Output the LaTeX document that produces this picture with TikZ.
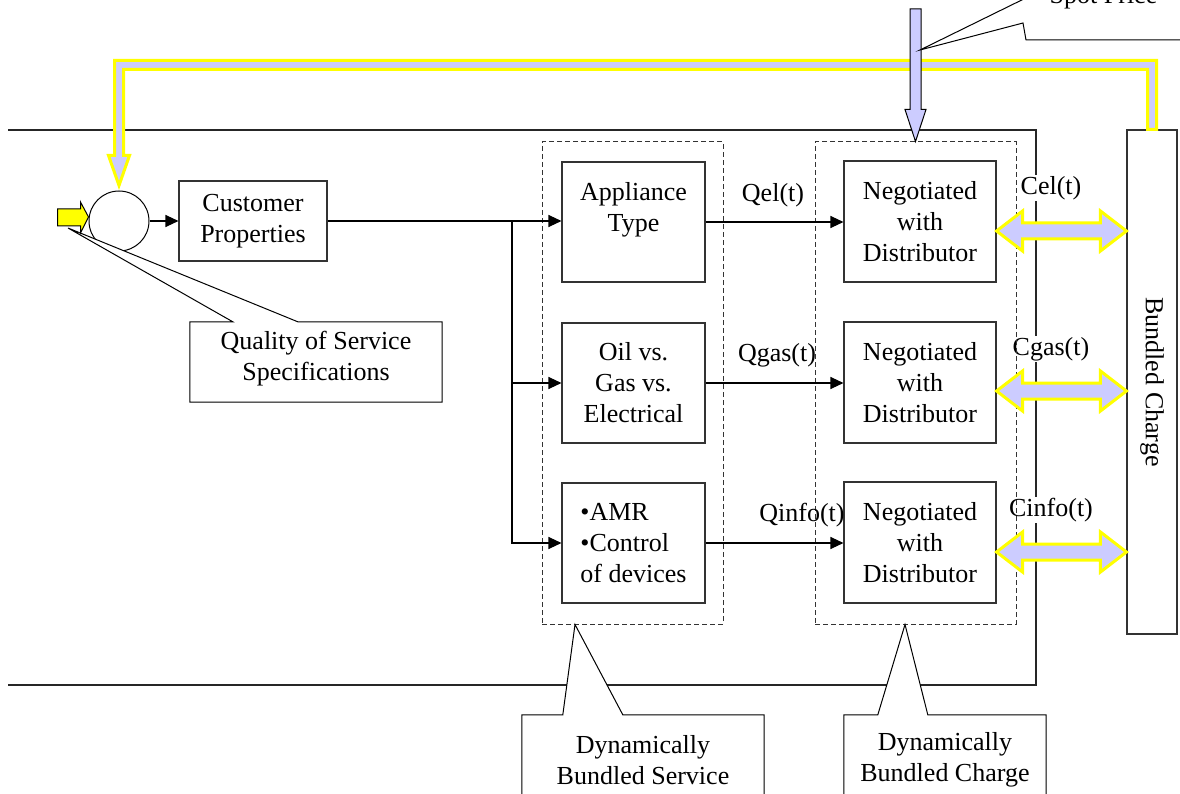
\documentclass[tikz,border=0pt]{standalone}
\usepackage{fontspec}
\setmainfont{Liberation Serif}
\usetikzlibrary{calc,arrows.meta}
\definecolor{lav}{HTML}{CCCCFF}
\definecolor{hiyel}{HTML}{FFFF00}

\begin{document}
\begin{tikzpicture}[x=1pt,y=-1pt,
  every node/.style={font=\fontsize{26}{31}\selectfont, inner sep=0pt},
  box/.style={draw=black!80, line width=1.1pt, fill=white, align=center},
  grp/.style={draw=black!80, line width=1pt, dash pattern=on 5pt off 3pt},
  wire/.style={draw=black, line width=1.1pt},
  flow/.style={wire, -{Triangle[length=13pt,width=12pt]}},
  band/.style={draw=hiyel, line width=3pt, fill=lav, line join=miter},
  pointer/.style={draw=black, line width=1pt, fill=white},
  blockarrow/.style={draw=black, line width=1pt},
  chargelbl/.style={fill=white, inner sep=1pt},
]
\useasboundingbox (0,0) rectangle (1180,794);
\clip (0,0) rectangle (1180,794);

% open frame of the customer site
\draw[wire, draw=black!85] (8,130) -- (1036,130) -- (1036,685) -- (8,685);

% charge labels (opaque, over the frame edge)
\node[chargelbl] (cel) at (1051,188) {Cel(t)};
\node[chargelbl] (cgas) at (1051,349) {Cgas(t)};
\node[chargelbl] (cinfo) at (1051,510) {Cinfo(t)};

% dashed groupings
\node[grp, minimum width=181pt, minimum height=482pt] (gs) at (632.5,383) {};
\node[grp, minimum width=201pt, minimum height=482pt] (gc) at (915.5,383) {};

% bundled charge column
\node[box, minimum width=50pt, minimum height=504pt] (bc) at (1152,382) {};
\node[rotate=-90] (bcT) at (bc) {Bundled Charge};

% entry circle
\node[draw=black, line width=1pt, fill=white, circle, minimum size=60pt] (cir) at (119,221) {};

% feedback band from the bundled charge to the entry circle
\coordinate (fbR) at (1152,65);
\coordinate (fbL) at (119,65);
\draw[band] ($(bc.north)+(-4.5,0)$) -- ($(fbR)+(-4.5,4.5)$) -- ($(fbL)+(4.5,4.5)$)
  -- ($(cir.north)+(4.5,-35)$) -- ++(6,0) -- ($(cir.north)+(0,-5)$)
  -- ($(cir.north)+(-10.5,-35)$) -- ++(6,0) -- ($(fbL)+(-4.5,-4.5)$)
  -- ($(fbR)+(4.5,-4.5)$) -- ($(bc.north)+(4.5,0)$) -- cycle;

% quality of service callout
\node[minimum width=252pt, minimum height=80pt] (qos) at (316,362) {};
\coordinate (qtip) at (68,228);
\draw[pointer] (qos.north west) -- ($(qos.north west)+(43,0)$) -- (qtip)
  -- ($(qos.north west)+(108,0)$) -- (qos.north east) -- (qos.south east)
  -- (qos.south west) -- cycle;
\node[align=center] (qosT) at ($(qos)+(0,-3)$) {Quality of Service\\Specifications};

% small input arrow
\draw[blockarrow, fill=hiyel] ($(cir.west)+(0,-4)$) -- ++(-8,-15) -- ++(0,7) -- ++(-23,0)
  -- ++(0,17) -- ++(23,0) -- ++(0,7) -- cycle;

% customer properties
\node[box, minimum width=148pt, minimum height=80pt] (cp) at (253,221) {Customer\\Properties};

% service boxes
\node[box, minimum width=143pt, minimum height=120pt] (s1) at (633.5,222) {Appliance\\Type\\\mbox{}};
\node[box, minimum width=143pt, minimum height=120pt] (s2) at (633.5,383) {Oil vs.\\Gas vs.\\Electrical};
\node[box, minimum width=143pt, minimum height=120pt, align=left] (s3) at (633.5,543) {\textbullet AMR\\\textbullet Control\\of devices};

% negotiated boxes
\node[box, minimum width=152pt, minimum height=121pt] (n1) at (920,221.5) {Negotiated\\with\\Distributor};
\node[box, minimum width=152pt, minimum height=121pt] (n2) at (920,382.5) {Negotiated\\with\\Distributor};
\node[box, minimum width=152pt, minimum height=121pt] (n3) at (920,542.5) {Negotiated\\with\\Distributor};

% flows
\coordinate (j) at (512,221);
\draw[flow] (cir.east) -- (cp.west);
\draw[flow] (cp.east) -- (cp.east -| s1.west);
\draw[flow] (j) |- (s2.west);
\draw[flow] (j) |- (s3.west);
\draw[flow] (s1.east) -- (s1.east -| n1.west);
\draw[flow] (s2.east) -- (s2.east -| n2.west);
\draw[flow] (s3.east) -- (s3.east -| n3.west);

% quantity labels
\node (qel) at (773,195) {Qel(t)};
\node (qgas) at (777,355) {Qgas(t)};
\node (qinfo) at (802,515) {Qinfo(t)};

% two-way charge arrows
\foreach \n/\dy in {n1/9.5, n2/8.5, n3/9.5}{
  \coordinate (a) at ($(\n.east)+(0,\dy)$);
  \coordinate (b) at (a -| bc.west);
  \draw[band] (a) -- ++(26,-20) -- ++(0,12) -- ($(b)+(-26,-8)$) -- ++(0,-12) -- (b)
    -- ++(-26,20) -- ++(0,-12) -- ($(a)+(26,8)$) -- ++(0,12) -- cycle;
}

% spot price input
\coordinate (spS) at (915.5,9);
\draw[blockarrow, fill=lav] ($(spS)+(-5.5,0)$) -- ($(gc.north)+(-5.5,-32)$) -- ++(-5,0)
  -- (gc.north) -- ($(gc.north)+(10.5,-32)$) -- ++(-5,0) -- ($(spS)+(5.5,0)$) -- cycle;
\coordinate (spTip) at (920,50);
\draw[pointer] (1190,40) -- (1026,40) -- (1023,23) -- (spTip) -- (1038,-8) -- (1190,-8);
\node[anchor=base] (spT) at (1103.5,4) {Spot Price};

% bottom callouts
\node[minimum width=242pt, minimum height=90pt] (dbs) at (643,760) {};
\draw[pointer] (dbs.north west) -- ($(dbs.north west)+(41,0)$) -- ($(gs.south)+(-57.5,0)$)
  -- ($(dbs.north west)+(101,0)$) -- (dbs.north east) -- (dbs.south east)
  -- (dbs.south west) -- cycle;
\node[align=center] (dbsT) at (dbs) {Dynamically\\Bundled Service};

\node[minimum width=202pt, minimum height=90pt] (dbc) at (945,760) {};
\draw[pointer] (dbc.north west) -- ($(dbc.north west)+(34,0)$) -- ($(gc.south)+(-10.5,0)$)
  -- ($(dbc.north west)+(84,0)$) -- (dbc.north east) -- (dbc.south east)
  -- (dbc.south west) -- cycle;
\node[align=center] (dbcT) at (dbc) {Dynamically\\Bundled Charge};
\end{tikzpicture}
\end{document}
